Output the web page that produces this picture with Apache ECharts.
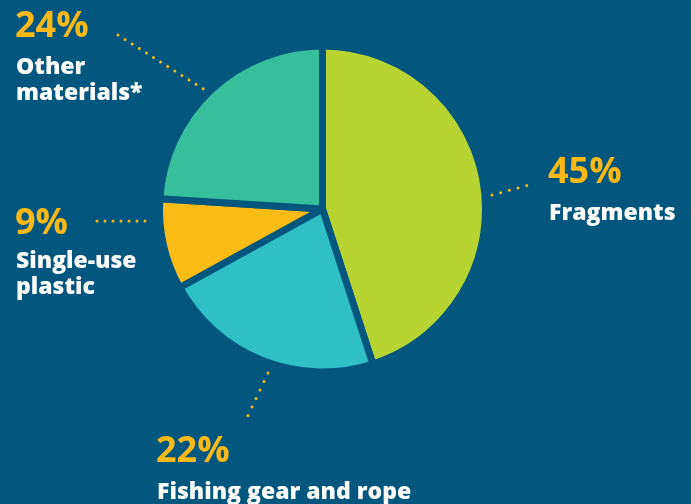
<!DOCTYPE html>
<html><head><meta charset="utf-8">
<script src="https://cdn.jsdelivr.net/npm/echarts@6/dist/echarts.min.js"></script>
<style>html,body{margin:0;padding:0;background:#03577f;}#c{width:691px;height:504px;}</style>
</head><body><div id="c"></div>
<script>
const categories = ['Fragments', 'Fishing gear and rope', 'Single-use plastic', 'Other materials*'];
const values = [45, 22, 9, 24];
const nameLabels = ['Fragments', 'Fishing gear and rope', 'Single-use\nplastic', 'Other\nmaterials*'];
const colors = ['#b7d433', '#2ebfc7', '#fdbb15', '#37be9a'];

const bg = '#03577f';
const gold = '#fbb917';
const font = '"Open Sans", sans-serif';
// label anchor positions (layout only)
const labelPos = [
  {x: 548, y: 155, ny: 200},
  {x: 156, y: 434, ny: 479},
  {x: 15, y: 206, ny: 248},
  {x: 15, y: 9, ny: 54}
];
const dotLines = [
  [[492, 195], [529, 185]],
  [[268, 373], [244, 424]],
  [[97, 221], [153, 221]],
  [[118, 35], [205, 90]]
];
const dotGap = [9, 9.4, 8, 8.4];

const graphic = [];
values.forEach((v, i) => {
  graphic.push({type: 'text', left: labelPos[i].x, top: labelPos[i].y,
    style: {text: v + '%', fill: gold, font: '700 36px ' + font, lineHeight: 36}});
  graphic.push({type: 'text', left: labelPos[i].x + 1, top: labelPos[i].ny,
    style: {text: nameLabels[i], fill: '#ffffff', font: '800 23px ' + font, lineHeight: 26}});
  graphic.push({type: 'polyline', shape: {points: dotLines[i]},
    style: {stroke: gold, lineWidth: 3, lineCap: 'round', lineDash: [0, dotGap[i]], fill: null}});
});

const chart = echarts.init(document.getElementById('c'));
chart.setOption({
  backgroundColor: bg,
  animation: false,
  graphic: graphic,
  series: [{
    type: 'pie',
    center: [322.5, 209],
    radius: [0, 163],
    startAngle: 90,
    clockwise: true,
    label: {show: false},
    labelLine: {show: false},
    emphasis: {disabled: true},
    itemStyle: {borderColor: bg, borderWidth: 7},
    data: categories.map((c, i) => ({name: c, value: values[i], itemStyle: {color: colors[i]}}))
  }]
});
</script></body></html>
